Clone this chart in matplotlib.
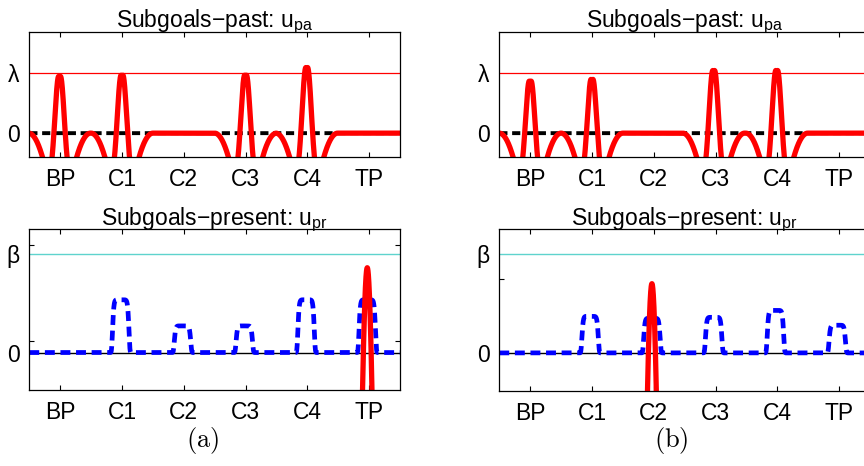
import numpy as np
import matplotlib
matplotlib.use("Agg")
import matplotlib.pyplot as plt

plt.rcParams["font.family"] = ["Liberation Sans", "DejaVu Sans"]
plt.rcParams["mathtext.fontset"] = "custom"
plt.rcParams["mathtext.rm"] = "Liberation Sans"

# data
subgoals = ["BP", "C1", "C2", "C3", "C4", "TP"]
sub_pos = [1, 2, 3, 4, 5, 6]

# past field: peaks (centre, height in units of lambda)
past_a_centers = [0.99, 2.0, 4.0, 4.99]
past_a_heights = [0.88, 0.90, 0.90, 1.03]
past_b_centers = [1.0, 2.0, 3.97, 4.99]
past_b_heights = [0.80, 0.83, 0.98, 0.98]

# present field: plateaus (blue) and single peak (red), in units of beta
pres_a_centers = [1.98, 2.98, 3.98, 4.98, 5.97]
pres_a_heights = [0.535, 0.27, 0.27, 0.535, 0.535]
pres_b_centers = [1.97, 2.97, 3.97, 4.97, 5.97]
pres_b_heights = [0.37, 0.35, 0.36, 0.43, 0.28]
peak_a_center, peak_a_height = 5.97, 0.86
peak_b_center, peak_b_height = 2.97, 0.70

# extra unlabeled y tick marks seen in the bottom panels
extra_ticks_a = [0.112, 1.094]
extra_ticks_b = [0.743]

x = np.linspace(0.5, 6.5, 3000)


def past_field(centers, heights):
    u = np.zeros_like(x)
    for c, h in zip(centers, heights):
        d = np.abs(x - c)
        u += (h + 2.0) * np.exp(-d ** 2 / (2 * 0.074 ** 2))
        u -= 8.0 * (0.5 - d) ** 2 * (d < 0.5)
    return u


def plateaus(centers, heights):
    u = np.zeros_like(x)
    for c, h in zip(centers, heights):
        u += h * np.exp(-((x - c) / 0.135) ** 10)
    return u


def single_peak(c, h):
    d = x - c
    return -10.0 + (h + 10.0) * np.exp(-d ** 2 / (2 * 0.155 ** 2))


fig = plt.figure(figsize=(8.64, 4.66), dpi=100)
W = 370.7 / 864
ax_tl = fig.add_axes([29.3 / 864, 1 - 156.7 / 466, W, 125 / 466])
ax_bl = fig.add_axes([29.3 / 864, 1 - 390 / 466, W, 160.7 / 466])
ax_tr = fig.add_axes([499.3 / 864, 1 - 156.7 / 466, W, 125 / 466])
ax_br = fig.add_axes([499.3 / 864, 1 - 390.5 / 466, W, 161.2 / 466])

dash = (0, (2.1, 1.2))

for ax, cen, hei in [(ax_tl, past_a_centers, past_a_heights),
                     (ax_tr, past_b_centers, past_b_heights)]:
    ax.plot(x, np.zeros_like(x), color="k", lw=2.8, linestyle=dash)
    ax.axhline(1.0, color="red", lw=0.9)
    ax.plot(x, past_field(cen, hei), color="red", lw=3.8, solid_capstyle="butt")
    ax.set_ylim(-0.39, 1.68)
    ax.set_yticks([0, 1])
    ax.set_yticklabels(["0", "λ"])
    ax.tick_params(axis="y", length=0)
    ax.set_title("Subgoals\u2212past: u$_{\\mathrm{pa}}$", fontsize=16.5, pad=3)

for ax, cen, hei, pc, ph, extra in [
        (ax_bl, pres_a_centers, pres_a_heights, peak_a_center, peak_a_height, extra_ticks_a),
        (ax_br, pres_b_centers, pres_b_heights, peak_b_center, peak_b_height, extra_ticks_b)]:
    ax.axhline(0.0, color="k", lw=1.0)
    ax.axhline(1.0, color="#5fd3cd", lw=1.0)
    ax.plot(x, plateaus(cen, hei), color="blue", lw=3.4, linestyle=dash)
    ax.plot(x, single_peak(pc, ph), color="red", lw=3.8)
    ax.set_ylim(-0.38, 1.25)
    ax.set_yticks([0, 1])
    ax.set_yticklabels(["0", "β"])
    ax.set_yticks(extra, minor=True)
    ax.tick_params(axis="y", which="major", length=0)
    ax.tick_params(axis="y", which="minor", length=3.5, direction="in",
                   left=True, right=True, width=0.8)
    ax.set_title("Subgoals\u2212present: u$_{\\mathrm{pr}}$", fontsize=16.5, pad=3)

for ax in (ax_tl, ax_bl, ax_tr, ax_br):
    ax.set_xlim(0.5, 6.5)
    ax.set_xticks(sub_pos)
    ax.set_xticklabels(subgoals)
    ax.tick_params(axis="x", direction="in", top=True, bottom=True,
                   length=3.5, width=0.8, pad=8)
    ax.tick_params(labelsize=16.5)
    ax.tick_params(axis="y", pad=7)
    for s in ax.spines.values():
        s.set_linewidth(0.9)

fig.text(203 / 864, 1 - 440 / 466, r"$(\mathrm{a})$", math_fontfamily="cm",
         fontsize=19, ha="center", va="center")
fig.text(671 / 864, 1 - 440 / 466, r"$(\mathrm{b})$", math_fontfamily="cm",
         fontsize=19, ha="center", va="center")

fig.savefig("out.png", dpi=100)
